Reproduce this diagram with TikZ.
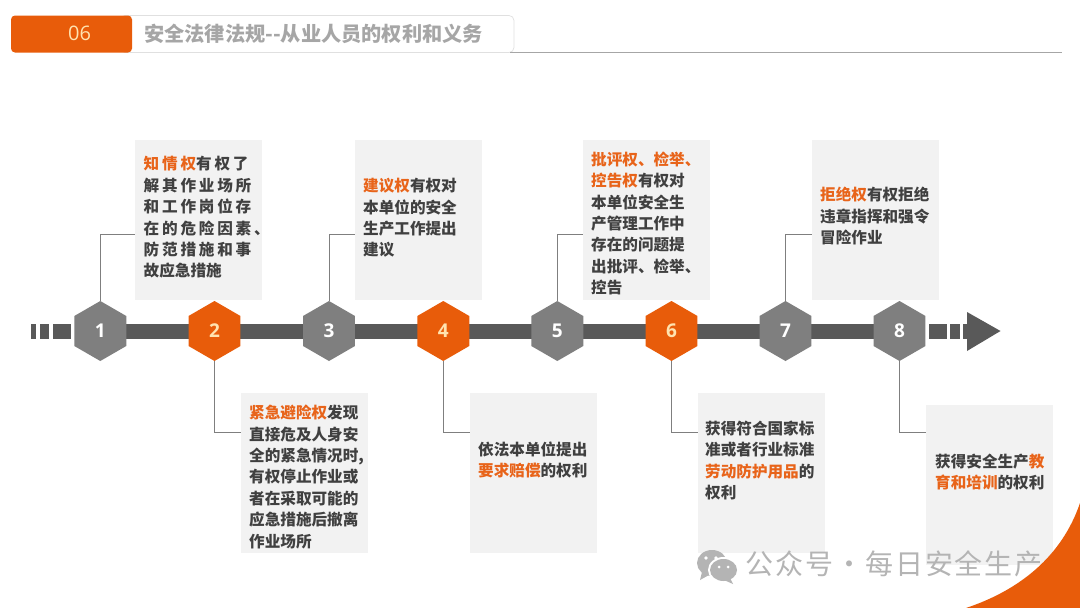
\documentclass[tikz,border=0pt]{standalone}
\usepackage{fontspec}
\usetikzlibrary{shapes.geometric}
\setmainfont{Noto Sans CJK SC}
\newfontfamily\widecjk[LetterSpace=18]{Noto Sans CJK SC}
\newfontfamily\latinf{Open Sans}
\newfontfamily\markf[LetterSpace=7]{Noto Sans CJK SC}
\definecolor{orng}{HTML}{E85C0A}
\definecolor{hl}{HTML}{E8641A}
\definecolor{bar}{HTML}{595959}
\definecolor{hexg}{HTML}{7F7F7F}
\definecolor{boxg}{HTML}{F2F2F2}
\definecolor{txt}{HTML}{404040}
\definecolor{wm}{HTML}{B4B4B4}
\definecolor{numc}{HTML}{FFE3B0}
\newcommand{\hlt}[1]{\textcolor{hl}{#1}}
\tikzset{
  x=1pt,y=-1pt,
  hexbase/.style={regular polygon,regular polygon sides=6,shape border rotate=30,minimum size=60pt,inner sep=0pt,text=white,font=\latinf\bfseries\fontsize{19}{19}\selectfont},
  hexgrey/.style={hexbase,fill=hexg},
  hexorange/.style={hexbase,fill=orng,text=numc},
  infobox/.style={fill=boxg,minimum width=127pt,minimum height=160pt,inner sep=0pt,anchor=north west},
  infotext/.style={anchor=west,align=left,inner sep=0pt,text=txt,font=\bfseries\fontsize{15.6}{21.4}\selectfont},
  widetext/.style={infotext,font=\widecjk\bfseries\fontsize{15.6}{21.4}\selectfont},
  conn/.style={draw=hexg,line width=0.8pt},
  barpart/.style={fill=bar,draw=none},
}
\begin{document}
\begin{tikzpicture}
\useasboundingbox (0,0) rectangle (1080,608);
\fill[white] (0,0) rectangle (1080,608);
% header
\draw[draw=black!12,line width=0.7pt,rounded corners=5pt] (120,15.5) rectangle (514,52.5);
\draw[draw=black!35,line width=0.8pt] (510,52.5) -- (1062,52.5);
\fill[orng,rounded corners=4pt] (11,15.5) rectangle (132,52.5);
\node[text=numc,font=\latinf\fontsize{20}{20}\selectfont,inner sep=0pt] (num) at (79.5,33) {06};
\node[anchor=west,inner sep=0pt,text=black!35,font=\bfseries\fontsize{20.2}{20.2}\selectfont] (title) at (144,33.5) {安全法律法规{-}{-}从业人员的权利和义务};
% boxes
\node[infobox] (b1) at (135,140) {};
\node[infobox] (b3) at (354.5,140) {};
\node[infobox] (b5) at (583,140) {};
\node[infobox] (b7) at (812,140) {};
\node[infobox] (b2) at (240.5,393) {};
\node[infobox] (b4) at (470,393) {};
\node[infobox] (b6) at (697.5,393) {};
\node[infobox] (b8) at (925.5,405) {};
% corner
\fill[orng] (966,608) .. controls (1020,590) and (1062,556) .. (1080,503) -- (1080,608) -- cycle;
% axis
\fill[barpart] (31,323.5) rectangle (36,338.5);
\fill[barpart] (40,323.5) rectangle (48.5,338.5);
\fill[barpart] (53,323.5) rectangle (71,338.5);
\fill[barpart] (100,323.5) rectangle (899,338.5);
\fill[barpart] (929,323.5) rectangle (947,338.5);
\fill[barpart] (950,323.5) rectangle (960,338.5);
\fill[barpart] (963,323.5) rectangle (968,338.5);
\fill[barpart] (967,312) -- (1000.5,331) -- (967,351) -- cycle;
% hexagons
\node[hexgrey] (h1) at (100.3,331) {1};
\node[hexorange] (h2) at (214.5,331) {2};
\node[hexgrey] (h3) at (329,331) {3};
\node[hexorange] (h4) at (443.3,331) {4};
\node[hexgrey] (h5) at (557.3,331) {5};
\node[hexorange] (h6) at (671.5,331) {6};
\node[hexgrey] (h7) at (785.5,331) {7};
\node[hexgrey] (h8) at (899.5,331) {8};
% connectors
\draw[conn] (h1.north) |- ([yshift=-14pt]b1.west);
\draw[conn] (h3.north) |- ([yshift=-14pt]b3.west);
\draw[conn] (h5.north) |- ([yshift=-14pt]b5.west);
\draw[conn] (h7.north) |- ([yshift=-14pt]b7.west);
\draw[conn] (h2.south) |- ([yshift=41pt]b2.west);
\draw[conn] (h4.south) |- ([yshift=41pt]b4.west);
\draw[conn] (h6.south) |- ([yshift=41pt]b6.west);
\draw[conn] (h8.south) |- ([yshift=53pt]b8.west);
% texts
\node[widetext] (t1) at (143.5,217.5) {\hlt{知情权}有权了\\解其作业场所\\和工作岗位存\\在的危险因素、\\防范措施和事\\{\rmfamily\bfseries 故应急措施}};
\node[infotext] (t3) at (363,218) {\hlt{建议权}有权对\\本单位的安全\\生产工作提出\\建议};
\node[infotext] (t5) at (591,223.5) {\hlt{批评权、检举、}\\\hlt{控告权}有权对\\本单位安全生\\产管理工作中\\存在的问题提\\出批评、检举、\\控告};
\node[infotext] (t7) at (820,216) {\hlt{拒绝权}有权拒绝\\违章指挥和强令\\冒险作业};
\node[infotext] (t2) at (249,477) {\hlt{紧急避险权}发现\\直接危及人身安\\全的紧急情况时,\\有权停止作业或\\者在采取可能的\\应急措施后撤离\\作业场所};
\node[infotext] (t4) at (478,460) {依法本单位提出\\\hlt{要求赔偿}的权利};
\node[infotext] (t6) at (705,460.5) {获得符合国家标\\准或者行业标准\\\hlt{劳动防护用品}的\\权利};
\node[infotext] (t8) at (935,472) {获得安全生产\hlt{教}\\\hlt{育和培训}的权利};
% watermark
\fill[wm] (712,563) ellipse (15pt and 13pt);
\fill[wm] (702,572) -- (700,580) -- (709,575) -- cycle;
\fill[white] (723.5,570) ellipse (15.5pt and 13pt);
\fill[wm] (723.5,570) ellipse (13.5pt and 11pt);
\fill[wm] (730,578) -- (733,584) -- (724,580) -- cycle;
\fill[white] (706,558) circle (1.8pt) (716,558) circle (1.8pt) (719,567) circle (1.5pt) (728,567) circle (1.5pt);
\node[anchor=west,inner sep=0pt,text=wm,font=\markf\fontsize{28}{28}\selectfont] (mark) at (745,564) {公众号\hspace{2pt}·\hspace{2pt}每日安全生产};
\end{tikzpicture}
\end{document}
